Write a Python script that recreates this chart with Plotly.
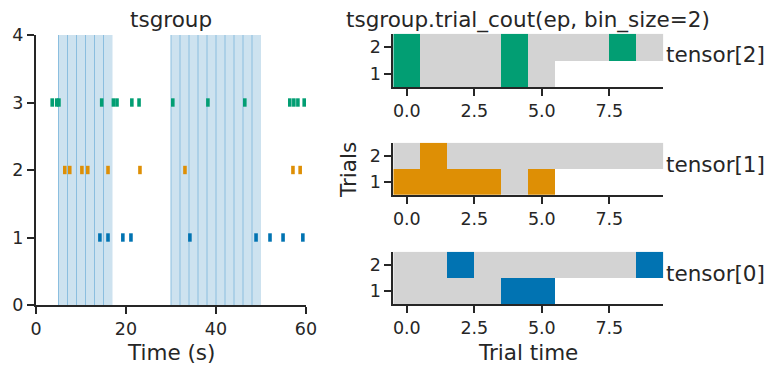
import numpy as np
import plotly.graph_objects as go

# ---------------- data ----------------
unit_names = ["tensor[0]", "tensor[1]", "tensor[2]"]
unit_colors = ["#0173b2", "#de8f05", "#029e73"]
spikes_0 = [14.2, 16.0, 19.3, 21.1, 34.2, 48.9, 52.0, 54.9, 59.3]
spikes_1 = [6.4, 7.5, 10.2, 11.5, 16.0, 23.1, 33.1, 57.1, 58.7]
spikes_2 = [3.6, 4.6, 5.1, 14.6, 17.2, 18.0, 21.3, 22.9, 30.4, 38.2, 46.4,
            56.4, 57.3, 58.2, 59.6]
ep_start = [5, 30]
ep_end = [17, 50]
bin_size = 2
trial_labels = [1, 2]
x_ticks_left = [0, 20, 40, 60]
y_ticks_left = [0, 1, 2, 3, 4]
x_ticks_right = [0, 2.5, 5, 7.5]
x_ticktext_right = ["0.0", "2.5", "5.0", "7.5"]

spikes = [spikes_0, spikes_1, spikes_2]

# page has an 8px body margin: the figure is drawn from (8, 8)
OFF = 8
W, H = 773 - OFF, 373 - OFF
FONT = "DejaVu Sans"
TXT = "#262626"
GRAY = "#d3d3d3"


def px(x):
    return (x - OFF) / W


def py(y):
    return 1 - (y - OFF) / H


fig = go.Figure()

# ---------------- left raster ----------------
for i, st in enumerate(spikes):
    fig.add_trace(go.Scatter(
        x=st, y=[i + 1] * len(st), mode="markers",
        marker=dict(symbol="line-ns", size=6,
                    line=dict(width=3.6, color=unit_colors[i]),
                    color=unit_colors[i]),
        xaxis="x", yaxis="y", showlegend=False, hoverinfo="x"))

shapes = []
for s, e in zip(ep_start, ep_end):
    shapes.append(dict(type="rect", xref="x", yref="y domain", x0=s, x1=e,
                       y0=0, y1=1, fillcolor="#cde2ef", line=dict(width=0),
                       layer="below"))
    for b in np.arange(s, e, bin_size):
        shapes.append(dict(type="line", xref="x", yref="y domain", x0=b, x1=b,
                           y0=0, y1=1, line=dict(color="#8bbedf", width=1),
                           layer="below"))

# ---------------- trial counts ----------------
n_bins_max = max(int(round((e - s) / bin_size)) for s, e in zip(ep_start, ep_end))
panel_axes = {2: ("x2", "y2"), 1: ("x3", "y3"), 0: ("x4", "y4")}
for i, st in enumerate(spikes):
    z = np.full((len(ep_start), n_bins_max), np.nan)
    for t, (s, e) in enumerate(zip(ep_start, ep_end)):
        edges = np.arange(s, e + bin_size / 2, bin_size)
        counts, _ = np.histogram(st, bins=edges)
        z[t, :len(counts)] = (counts > 0).astype(float)
    xa, ya = panel_axes[i]
    fig.add_trace(go.Heatmap(
        z=z, x=list(range(n_bins_max)), y=trial_labels,
        colorscale=[[0, GRAY], [1, unit_colors[i]]], zmin=0, zmax=1,
        showscale=False, xaxis=xa, yaxis=ya, hoverongaps=False))

# ---------------- layout ----------------
axis_common = dict(showline=True, linecolor=TXT, linewidth=2, ticks="outside",
                   ticklen=7, tickwidth=2, tickcolor=TXT, showgrid=False,
                   zeroline=False, mirror=False, automargin=False,
                   tickfont=dict(family=FONT, size=17.5, color=TXT))

layout = dict(
    template="none",
    width=W, height=H, margin=dict(l=0, r=0, t=0, b=0, pad=0), autosize=False,
    paper_bgcolor="white", plot_bgcolor="rgba(0,0,0,0)",
    font=dict(family=FONT, color=TXT), showlegend=False, shapes=shapes,
    xaxis=dict(domain=[px(36), px(306)], range=[0, 60], tickvals=x_ticks_left,
               anchor="y", **axis_common),
    yaxis=dict(domain=[py(305), py(35)], range=[0, 4], tickvals=y_ticks_left,
               anchor="x", **axis_common),
)

right_x = [px(393.3), px(663.3)]
right_y = {"2": (33.7, 87.3), "3": (142.7, 195.0), "4": (251.7, 304.3)}
for k, (top, bot) in right_y.items():
    layout["xaxis" + k] = dict(domain=right_x, range=[-0.5, 9.5],
                               tickvals=x_ticks_right, ticktext=x_ticktext_right,
                               anchor="y" + k, **axis_common)
    layout["yaxis" + k] = dict(domain=[py(bot), py(top)], range=[0.5, 2.5],
                               tickvals=trial_labels, anchor="x" + k, **axis_common)

ann = []


def add_text(text, x, y, size=21.5, xanchor="center", angle=0):
    ann.append(dict(text=text, x=px(x), y=py(y), xref="paper", yref="paper",
                    showarrow=False, xanchor=xanchor, yanchor="middle",
                    textangle=angle, font=dict(family=FONT, size=size, color=TXT)))


add_text("tsgroup", 171, 20)
add_text("tsgroup.trial_cout(ep, bin_size=2)", 528, 20)
add_text("Time (s)", 171, 352)
add_text("Trial time", 528, 352)
add_text("Trials", 349, 170, angle=-90)
add_text(unit_names[2], 664, 54, xanchor="left")
add_text(unit_names[1], 664, 164, xanchor="left")
add_text(unit_names[0], 664, 273, xanchor="left")
layout["annotations"] = ann

fig.update_layout(**layout)
fig.write_html("out.html")
